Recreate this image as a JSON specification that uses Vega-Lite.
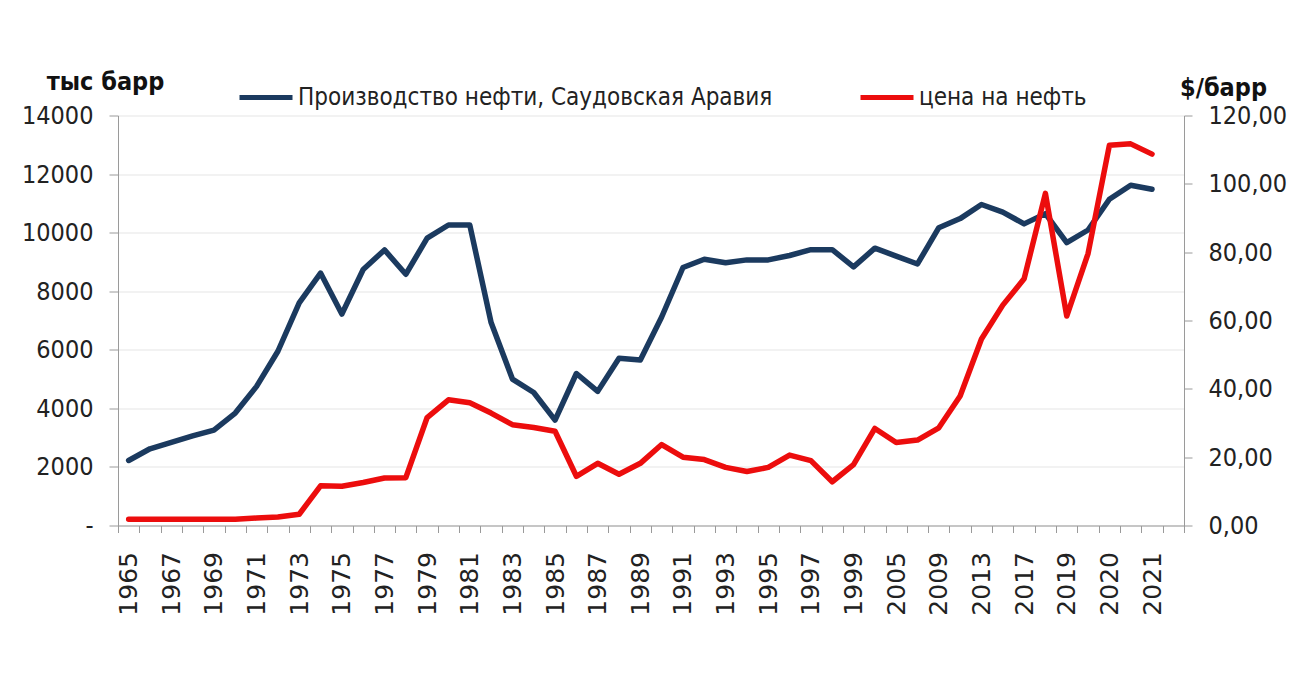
{
  "$schema": "https://vega.github.io/schema/vega-lite/v6.json",
  "width": 1066,
  "height": 410,
  "autosize": {"type": "none"},
  "padding": {"left": 118, "top": 115.5, "right": 132, "bottom": 164.5},
  "background": "white",
  "config": {
    "view": {"stroke": null},
    "font": "DejaVu Sans Condensed, Liberation Sans, sans-serif"
  },
  "data": {
    "values": [
      {"year": "1965", "prod": 2220, "price": 1.8},
      {"year": "1966", "prod": 2620, "price": 1.8},
      {"year": "1967", "prod": 2840, "price": 1.8},
      {"year": "1968", "prod": 3060, "price": 1.8},
      {"year": "1969", "prod": 3260, "price": 1.8},
      {"year": "1970", "prod": 3840, "price": 1.8},
      {"year": "1971", "prod": 4750, "price": 2.2},
      {"year": "1972", "prod": 5950, "price": 2.5},
      {"year": "1973", "prod": 7600, "price": 3.3},
      {"year": "1974", "prod": 8620, "price": 11.6},
      {"year": "1975", "prod": 7220, "price": 11.5},
      {"year": "1976", "prod": 8740, "price": 12.6},
      {"year": "1977", "prod": 9410, "price": 13.9},
      {"year": "1978", "prod": 8580, "price": 14.0},
      {"year": "1979", "prod": 9810, "price": 31.6},
      {"year": "1980", "prod": 10260, "price": 36.8},
      {"year": "1981", "prod": 10260, "price": 35.9},
      {"year": "1982", "prod": 6930, "price": 32.9},
      {"year": "1983", "prod": 5000, "price": 29.5},
      {"year": "1984", "prod": 4540, "price": 28.7},
      {"year": "1985", "prod": 3600, "price": 27.6},
      {"year": "1986", "prod": 5190, "price": 14.4},
      {"year": "1987", "prod": 4580, "price": 18.2},
      {"year": "1988", "prod": 5710, "price": 15.0},
      {"year": "1989", "prod": 5650, "price": 18.2},
      {"year": "1990", "prod": 7120, "price": 23.7},
      {"year": "1991", "prod": 8810, "price": 20.0},
      {"year": "1992", "prod": 9090, "price": 19.3},
      {"year": "1993", "prod": 8970, "price": 17.0},
      {"year": "1994", "prod": 9070, "price": 15.8},
      {"year": "1995", "prod": 9070, "price": 17.0},
      {"year": "1996", "prod": 9220, "price": 20.6},
      {"year": "1997", "prod": 9420, "price": 19.0},
      {"year": "1998", "prod": 9420, "price": 12.8},
      {"year": "1999", "prod": 8830, "price": 17.8},
      {"year": "2000", "prod": 9470, "price": 28.4},
      {"year": "2005", "prod": 9200, "price": 24.3},
      {"year": "2007", "prod": 8930, "price": 25.0},
      {"year": "2009", "prod": 10170, "price": 28.6},
      {"year": "2011", "prod": 10480, "price": 37.9},
      {"year": "2013", "prod": 10960, "price": 54.6},
      {"year": "2015", "prod": 10700, "price": 64.5},
      {"year": "2017", "prod": 10300, "price": 72.2},
      {"year": "2018", "prod": 10650, "price": 97.2},
      {"year": "2019", "prod": 9660, "price": 61.3},
      {"year": "2019–20", "prod": 10090, "price": 79.6},
      {"year": "2020", "prod": 11140, "price": 111.3},
      {"year": "2020–21", "prod": 11620, "price": 111.7},
      {"year": "2021", "prod": 11480, "price": 108.7}
    ]
  },
  "encoding": {
    "x": {
      "field": "year",
      "type": "ordinal",
      "sort": null,
      "bandPosition": 0.5,
      "scale": {
        "type": "band",
        "paddingInner": 0,
        "paddingOuter": 0,
        "domain": ["1965","1966","1967","1968","1969","1970","1971","1972","1973","1974","1975","1976","1977","1978","1979","1980","1981","1982","1983","1984","1985","1986","1987","1988","1989","1990","1991","1992","1993","1994","1995","1996","1997","1998","1999","2000","2005","2007","2009","2011","2013","2015","2017","2018","2019","2019–20","2020","2020–21","2021","2022"]
      },
      "axis": {
        "title": null,
        "labelAngle": -90,
        "labelFont": "DejaVu Sans",
        "labelFontSize": 25,
        "labelColor": "#222222",
        "labelPadding": 19,
        "tickSize": 7,
        "tickColor": "#9a9a9a",
        "domainColor": "#9a9a9a",
        "tickBand": "extent",
        "labelOverlap": false,
        "labelBound": false,
        "grid": false,
        "labelExpr": "indexof(['1965','1967','1969','1971','1973','1975','1977','1979','1981','1983','1985','1987','1989','1991','1993','1995','1997','1999','2005','2009','2013','2017','2019','2020','2021'], datum.value) >= 0 ? datum.value : ''"
      }
    }
  },
  "layer": [
    {
      "mark": {"type": "line", "strokeWidth": 5.5, "strokeJoin": "round", "strokeCap": "round"},
      "encoding": {
        "y": {
          "field": "prod",
          "type": "quantitative",
          "scale": {"domain": [0, 14000], "nice": false, "zero": true},
          "axis": {
            "orient": "left",
            "title": "тыс барр",
            "titleAngle": 0,
            "titleAlign": "center",
            "titleBaseline": "alphabetic",
            "titleX": -13,
            "titleY": -26,
            "titleFontSize": 25,
            "titleFontWeight": "bold",
            "titleColor": "#111111",
            "values": [0, 2000, 4000, 6000, 8000, 10000, 12000, 14000],
            "labelExpr": "datum.value == 0 ? '-' : format(datum.value, 'd')",
            "labelFontSize": 25,
            "labelColor": "#222222",
            "labelPadding": 16,
            "tickSize": 9,
            "tickColor": "#9a9a9a",
            "domainColor": "#9a9a9a",
            "grid": true,
            "gridColor": "#e6e6e6",
            "gridWidth": 1.2
          }
        },
        "color": {
          "datum": "Производство нефти, Саудовская Аравия",
          "type": "nominal",
          "scale": {
            "domain": ["Производство нефти, Саудовская Аравия", "цена на нефть"],
            "range": ["#1b3a5f", "#ec0d0d"]
          },
          "legend": {
            "title": null,
            "orient": "none",
            "direction": "horizontal",
            "legendX": 119,
            "legendY": -47,
            "symbolType": "stroke",
            "symbolSize": 2809,
            "symbolStrokeWidth": 5,
            "labelFontSize": 24,
            "labelColor": "#222222",
            "labelOffset": 3,
            "columnPadding": 77,
            "padding": 0,
            "labelLimit": 0
          }
        }
      }
    },
    {
      "mark": {"type": "line", "strokeWidth": 5.5, "strokeJoin": "round", "strokeCap": "round"},
      "encoding": {
        "y": {
          "field": "price",
          "type": "quantitative",
          "scale": {"domain": [0, 120], "nice": false, "zero": true},
          "axis": {
            "orient": "right",
            "title": "$/барр",
            "titleAngle": 0,
            "titleAlign": "center",
            "titleBaseline": "alphabetic",
            "titleX": 39,
            "titleY": -20,
            "titleFontSize": 25,
            "titleFontWeight": "bold",
            "titleColor": "#111111",
            "values": [0, 20, 40, 60, 80, 100, 120],
            "labelExpr": "replace(format(datum.value, '.2f'), '.', ',')",
            "labelFontSize": 25,
            "labelColor": "#222222",
            "labelPadding": 16,
            "tickSize": 8,
            "tickColor": "#9a9a9a",
            "domainColor": "#9a9a9a",
            "grid": false
          }
        },
        "color": {"datum": "цена на нефть", "type": "nominal"}
      }
    }
  ],
  "resolve": {"scale": {"y": "independent"}}
}
